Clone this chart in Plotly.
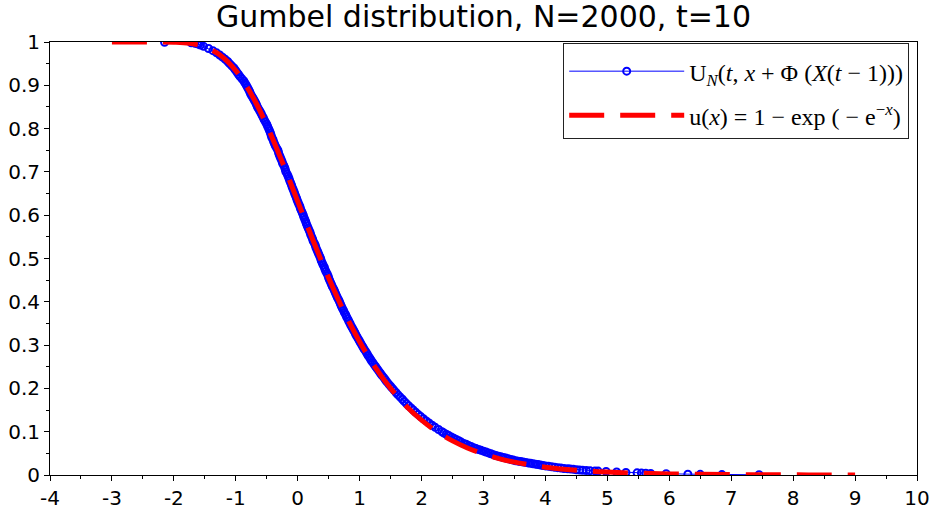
import plotly.graph_objects as go

blue_x = [-2.15, -1.72, -1.66, -1.62, -1.60, -1.57,
          -1.52, -1.44, -1.37, -1.31, -1.26, -1.215, -1.17, -1.13, -1.10, -1.065,
          -1.03, -1.005, -0.98, -0.955, -0.93, -0.90, -0.87, -0.85, -0.83, -0.81,
          -0.79, -0.775, -0.76, -0.74, -0.72, -0.70, -0.68, -0.665, -0.65, -0.63,
          -0.61, -0.59, -0.575, -0.555, -0.54, -0.52, -0.50, -0.485, -0.47, -0.455,
          -0.44, -0.43, -0.42, -0.40, -0.39, -0.375, -0.36, -0.34, -0.32, -0.31,
          -0.30, -0.285, -0.27, -0.255, -0.245, -0.225, -0.21, -0.20, -0.19, -0.17,
          -0.155, -0.14, -0.13, -0.115, -0.10, -0.09, -0.075, -0.06, -0.05, -0.035,
          -0.02, -0.01, 0.005, 0.02, 0.035, 0.045, 0.06, 0.075, 0.09, 0.10,
          0.115, 0.13, 0.14, 0.155, 0.17, 0.185, 0.20, 0.21, 0.225, 0.24,
          0.25, 0.27, 0.285, 0.295, 0.31, 0.325, 0.34, 0.355, 0.37, 0.38,
          0.395, 0.41, 0.43, 0.44, 0.455, 0.475, 0.49, 0.50, 0.515, 0.53,
          0.545, 0.56, 0.58, 0.595, 0.61, 0.625, 0.64, 0.66, 0.675, 0.69,
          0.705, 0.72, 0.74, 0.755, 0.775, 0.79, 0.81, 0.825, 0.845, 0.86,
          0.88, 0.90, 0.92, 0.935, 0.955, 0.975, 0.995, 1.015, 1.035, 1.055,
          1.075, 1.10, 1.12, 1.14, 1.165, 1.185, 1.21, 1.235, 1.26, 1.285,
          1.31, 1.335, 1.36, 1.39, 1.415, 1.44, 1.47, 1.50, 1.53, 1.56,
          1.59, 1.62, 1.655, 1.69, 1.72, 1.755, 1.79, 1.83, 1.865, 1.905,
          1.945, 1.985, 2.03, 2.075, 2.12, 2.17, 2.22, 2.275, 2.33,
          2.36, 2.40, 2.44, 2.48, 2.52, 2.56, 2.60, 2.64, 2.68, 2.72,
          2.76, 2.80, 2.84, 2.88, 2.92, 2.96, 3.00, 3.04, 3.08, 3.12,
          3.16, 3.20, 3.24, 3.28, 3.32, 3.36, 3.40, 3.44, 3.48, 3.52,
          3.56, 3.60, 3.64, 3.68, 3.72, 3.76, 3.80, 3.84, 3.88, 3.92,
          3.96, 4.00, 4.05, 4.10, 4.15, 4.20, 4.25, 4.30, 4.36, 4.40,
          4.45, 4.50, 4.55, 4.60, 4.66, 4.72, 4.80, 4.85, 4.98, 5.15,
          5.30, 5.48, 5.55, 5.62, 5.70, 5.95, 6.30, 6.50, 6.85, 7.45]
blue_y = [0.9995, 0.998, 0.997, 0.996, 0.995, 0.993,
          0.99, 0.985, 0.98, 0.975, 0.97, 0.965, 0.96, 0.955, 0.95, 0.945,
          0.94, 0.935, 0.93, 0.925, 0.92, 0.915, 0.91, 0.905, 0.90, 0.895,
          0.89, 0.885, 0.88, 0.875, 0.87, 0.865, 0.86, 0.855, 0.85, 0.845,
          0.84, 0.835, 0.83, 0.825, 0.82, 0.815, 0.81, 0.805, 0.80, 0.795,
          0.79, 0.785, 0.78, 0.775, 0.77, 0.765, 0.76, 0.755, 0.75, 0.745,
          0.74, 0.735, 0.73, 0.725, 0.72, 0.715, 0.71, 0.705, 0.70, 0.695,
          0.69, 0.685, 0.68, 0.675, 0.67, 0.665, 0.66, 0.655, 0.65, 0.645,
          0.64, 0.635, 0.63, 0.625, 0.62, 0.615, 0.61, 0.605, 0.60, 0.595,
          0.59, 0.585, 0.58, 0.575, 0.57, 0.565, 0.56, 0.555, 0.55, 0.545,
          0.54, 0.535, 0.53, 0.525, 0.52, 0.515, 0.51, 0.505, 0.50, 0.495,
          0.49, 0.485, 0.48, 0.475, 0.47, 0.465, 0.46, 0.455, 0.45, 0.445,
          0.44, 0.435, 0.43, 0.425, 0.42, 0.415, 0.41, 0.405, 0.40, 0.395,
          0.39, 0.385, 0.38, 0.375, 0.37, 0.365, 0.36, 0.355, 0.35, 0.345,
          0.34, 0.335, 0.33, 0.325, 0.32, 0.315, 0.31, 0.305, 0.30, 0.295,
          0.29, 0.285, 0.28, 0.275, 0.27, 0.265, 0.26, 0.255, 0.25, 0.245,
          0.24, 0.235, 0.23, 0.225, 0.22, 0.215, 0.21, 0.205, 0.20, 0.195,
          0.19, 0.185, 0.18, 0.175, 0.17, 0.165, 0.16, 0.155, 0.15, 0.145,
          0.14, 0.135, 0.13, 0.125, 0.12, 0.115, 0.11, 0.105, 0.10,
          0.097, 0.094, 0.091, 0.088, 0.085, 0.082, 0.079, 0.076, 0.073, 0.071,
          0.068, 0.066, 0.063, 0.061, 0.059, 0.057, 0.055, 0.053, 0.051, 0.049,
          0.047, 0.045, 0.0435, 0.042, 0.0405, 0.039, 0.0375, 0.036, 0.0345, 0.033,
          0.032, 0.031, 0.030, 0.029, 0.028, 0.027, 0.026, 0.025, 0.024, 0.023,
          0.022, 0.021, 0.020, 0.019, 0.018, 0.017, 0.016, 0.015, 0.0145, 0.014,
          0.013, 0.012, 0.0115, 0.011, 0.0105, 0.010, 0.0095, 0.009, 0.008, 0.007,
          0.006, 0.005, 0.0045, 0.004, 0.0035, 0.003, 0.002, 0.0015, 0.001, 0.0005]

# Limit curve u(x) (red dashed)
red_x = [-3, -2.75, -2.5, -2.25, -2, -1.75, -1.5, -1.25, -1, -0.75, -0.5, -0.25,
         0, 0.25, 0.5, 0.75, 1, 1.25, 1.5, 1.75, 2, 2.25, 2.5, 2.75, 3, 3.25,
         3.5, 3.75, 4, 4.5, 5, 5.5, 6, 6.5, 7, 7.5, 8, 8.5, 9]
red_y = [1.0, 1.0, 1.0, 0.99992, 0.99938, 0.99683, 0.9887, 0.9695, 0.934, 0.8796,
         0.8077, 0.7231, 0.6321, 0.541, 0.4548, 0.3765, 0.3078, 0.2491, 0.2, 0.1595,
         0.1266, 0.1, 0.0788, 0.0619, 0.0486, 0.038, 0.0297, 0.02325, 0.0181, 0.011,
         0.0067, 0.0041, 0.0025, 0.0015, 0.0009, 0.00055, 0.00034, 0.0002, 0.00012]

x_ticks = list(range(-4, 11))
x_tick_labels = ["-4", "-3", "-2", "-1", "0", "1", "2", "3", "4", "5", "6", "7", "8", "9", "10"]
y_ticks = [0, 0.1, 0.2, 0.3, 0.4, 0.5, 0.6, 0.7, 0.8, 0.9, 1]
y_tick_labels = ["0", "0.1", "0.2", "0.3", "0.4", "0.5", "0.6", "0.7", "0.8", "0.9", "1"]

title_text = "Gumbel distribution, N=2000, t=10"
blue_name = "U<sub><i>N</i></sub>(<i>t</i>, <i>x</i> + Φ (<i>X</i>(<i>t</i> − 1)))"
red_name = "u(<i>x</i>) = 1 − exp ( − e<sup>−<i>x</i></sup>)"

fig = go.Figure()
fig.add_trace(go.Scatter(
    x=blue_x, y=blue_y, mode="lines+markers", name=blue_name,
    line=dict(color="blue", width=1),
    marker=dict(symbol="circle-open", size=7, color="blue", line=dict(width=2)),
    legendgroup="a",
))
fig.add_trace(go.Scatter(
    x=red_x, y=red_y, mode="lines", name=red_name, line_shape="spline",
    line=dict(color="red", width=5, dash="35px,16px"),
    legendgroup="b",
))

axis_common = dict(
    showline=True, linecolor="black", linewidth=1, mirror=True, automargin=False,
    ticks="outside", ticklen=5, tickcolor="black", showgrid=False, zeroline=False,
    tickfont=dict(family="DejaVu Sans", size=20, color="black"),
)
fig.update_xaxes(range=[-4, 10], tickvals=x_ticks, ticktext=x_tick_labels,
                 minor=dict(dtick=0.5, ticklen=3, ticks="outside", tickcolor="black"),
                 **axis_common)
fig.update_yaxes(range=[0, 1], tickvals=y_ticks, ticktext=y_tick_labels,
                 minor=dict(dtick=0.05, ticklen=3, ticks="outside", tickcolor="black"),
                 **axis_common)

fig.update_layout(
    width=934, height=514,
    margin=dict(l=50, r=17, t=42, b=39),
    paper_bgcolor="white", plot_bgcolor="white",
    title=dict(text=title_text, x=0.5, xref="paper", xanchor="center",
               y=0.968, yanchor="middle",
               font=dict(family="DejaVu Sans", size=30, color="black")),
    legend=dict(x=0.991, y=0.998, xanchor="right", yanchor="top",
                bordercolor="#222", borderwidth=1, bgcolor="white",
                title=dict(text="&nbsp;", font=dict(size=4)),
                font=dict(family="Liberation Serif", size=24, color="black"),
                itemwidth=115, tracegroupgap=10),
    showlegend=True,
)

fig.write_html("out.html", config={"displayModeBar": False},
               post_script="document.body.style.margin='0';")
